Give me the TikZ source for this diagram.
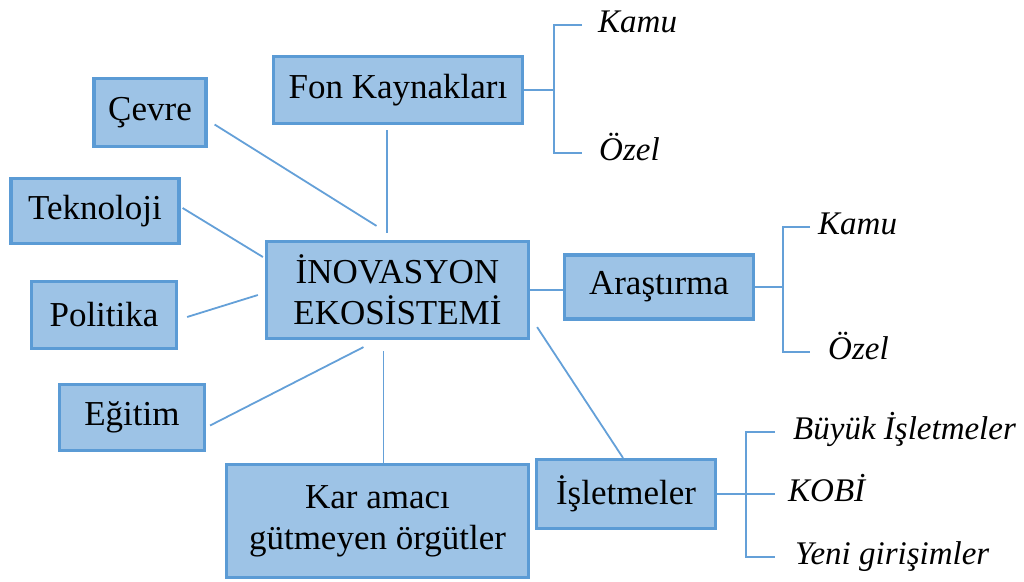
\documentclass[tikz,border=0pt]{standalone}
\usepackage{fontspec}
\setmainfont{Liberation Serif}
\definecolor{kutudolgu}{RGB}{157,195,230}
\definecolor{kutucizgi}{RGB}{91,155,213}
\definecolor{bagrenk}{RGB}{100,160,216}
\tikzset{
  kutu/.style={draw=kutucizgi, fill=kutudolgu, line width=3.2pt, align=center,
    font=\fontsize{35}{41}\selectfont, inner sep=2pt},
  bag/.style={draw=bagrenk, line width=1.8pt},
  etiket/.style={anchor=west, inner sep=0pt, text height=14pt, text depth=0pt,
    font=\fontsize{33}{37}\selectfont\itshape}
}
\begin{document}
\begin{tikzpicture}[x=1pt, y=-1pt]
    \useasboundingbox (0,0) rectangle (1024,581);

    % Merkezdeki kutu
    \node[kutu, minimum width=262pt, minimum height=97pt] (inov) at (397.5,290) {İNOVASYON\\EKOSİSTEMİ};

    % Sol taraftaki kutular
    \node[kutu, minimum width=112pt, minimum height=68pt] (cevre) at (150,112.5) {Çevre};
    \node[kutu, minimum width=168pt, minimum height=65pt] (tek) at (95,211) {Teknoloji};
    \node[kutu, minimum width=145pt, minimum height=67pt] (pol) at (104,315) {Politika};
    \node[kutu, minimum width=145pt, minimum height=66pt] (egi) at (132,417.5) {Eğitim};

    % Üst, alt ve sağ kutular
    \node[kutu, minimum width=249pt, minimum height=67pt] (fon) at (398,90) {Fon Kaynakları};
    \node[kutu, minimum width=302pt, minimum height=113pt] (kar) at (377.5,521) {Kar amacı\\gütmeyen örgütler};
    \node[kutu, minimum width=189pt, minimum height=64pt] (ara) at (659,287) {Araştırma};
    \node[kutu, minimum width=179pt, minimum height=69pt] (isl) at (626,494) {İşletmeler};

    % Merkeze giden çizgiler
    \draw[bag] ([xshift=-11pt,yshift=-5pt]fon.south) -- ([xshift=-10.5pt,yshift=7pt]inov.north);
    \draw[bag] ([xshift=7pt,yshift=-12pt]cevre.east) -- ([xshift=-21pt,yshift=14pt]inov.north);
    \draw[bag] ([xshift=2pt,yshift=3pt]tek.east) -- ([xshift=-2pt,yshift=33pt]inov.west);
    \draw[bag] ([xshift=9pt,yshift=-2pt]pol.east) -- ([xshift=-7pt,yshift=-5pt]inov.west);
    \draw[bag] ([xshift=4pt,yshift=-8pt]egi.east) -- ([xshift=-34pt,yshift=-7pt]inov.south);
    \draw[bag] ([xshift=-14pt,yshift=-11pt]inov.south) -- ([xshift=6pt]kar.north);
    \draw[bag] ([xshift=7pt,yshift=13pt]inov.south east) -- ([xshift=-3pt]isl.north);
    \draw[bag] (inov.east) -- (inov.east -| ara.west);

    % Fon kaynakları dalları
    \node[etiket] (kamu1) at (598,25) {Kamu};
    \node[etiket] (ozel1) at (599,153) {Özel};
    \draw[bag] (fon.east) -- ++(30,0) coordinate (fonk);
    \draw[bag, shorten <=16pt, shorten >=17pt] (kamu1.west) -| (fonk) |- (ozel1.west);

    % Araştırma dalları
    \node[etiket] (kamu2) at (818,227) {Kamu};
    \node[etiket] (ozel2) at (828,352) {Özel};
    \draw[bag] (ara.east) -- ++(28,0) coordinate (arak);
    \draw[bag, shorten <=8pt, shorten >=18pt] (kamu2.west) -| (arak) |- (ozel2.west);

    % İşletmeler dalları
    \node[etiket] (buyuk) at (793,432) {Büyük İşletmeler};
    \node[etiket] (kobi) at (788,494) {KOBİ};
    \node[etiket] (yeni) at (795,557) {Yeni girişimler};
    \coordinate (islk) at ([xshift=29pt]isl.east);
    \draw[bag, shorten >=13pt] (isl.east) -- (kobi.west);
    \draw[bag, shorten <=18pt, shorten >=20pt] (buyuk.west) -| (islk) |- (yeni.west);

  \end{tikzpicture}
\end{document}
